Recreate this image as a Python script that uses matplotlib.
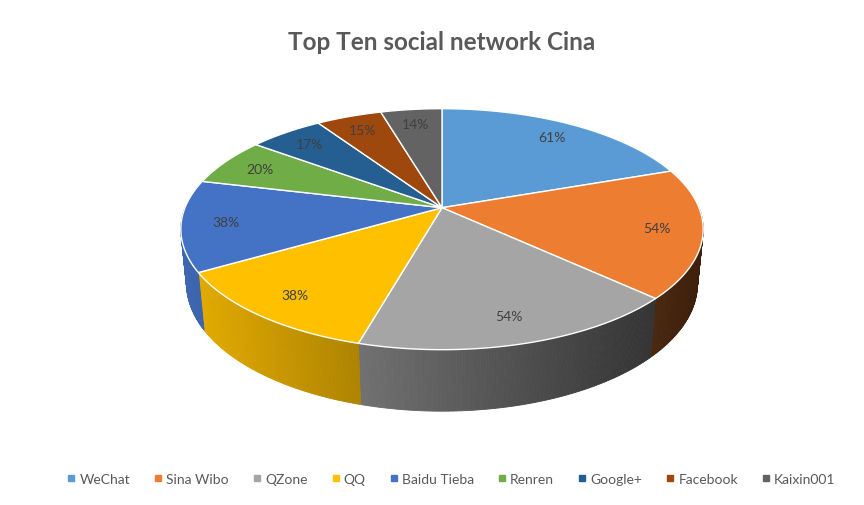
import numpy as np
import matplotlib.pyplot as plt
from matplotlib.patches import Polygon
from matplotlib.lines import Line2D

# data
names = ['WeChat', 'Sina Wibo', 'QZone', 'QQ', 'Baidu Tieba', 'Renren',
         'Google+', 'Facebook', 'Kaixin001']
values = [61, 54, 54, 38, 38, 20, 17, 15, 14]
colors = ['#5B9BD5', '#ED7D31', '#A5A5A5', '#FFC000', '#4472C4', '#70AD47',
          '#255E91', '#9E480E', '#636363']
title = 'Top Ten social network Cina'

plt.rcParams['font.family'] = ['Lato', 'DejaVu Sans']

# simple perspective projection of a tilted disk
cx, cy, k = 442.0, 208.7, 257.0
elev = np.radians(27)
dist = 5.0
depth = 0.24


def project(x, y, z):
    v = y * np.sin(elev) + z * np.cos(elev)
    w = y * np.cos(elev) - z * np.sin(elev)
    s = dist / (dist + w)
    return cx + k * x * s, cy - k * v * s


def shade(color, f):
    c = np.array(plt.matplotlib.colors.to_rgb(color))
    return tuple(np.clip(c * f, 0, 1))


fig = plt.figure(figsize=(8.64, 5.06), dpi=100)
ax = fig.add_axes([0, 0, 1, 1])
ax.set_xlim(0, 864)
ax.set_ylim(506, 0)
ax.axis('off')

total = float(sum(values))
cum = np.concatenate([[0], np.cumsum(values)]) / total * 360.0
starts = 90 - cum[:-1]
ends = 90 - cum[1:]

# front walls
for a0, a1, col in zip(starts, ends, colors):
    lo, hi = max(a1, -180), min(a0, 0)
    if hi <= lo:
        continue
    t = np.radians(np.linspace(hi, lo, int((hi - lo) * 2) + 2))
    for j in range(len(t) - 1):
        ta, tb = t[j], t[j + 1]
        xa, ya = project(np.cos(ta), np.sin(ta), 0)
        xb, yb = project(np.cos(tb), np.sin(tb), 0)
        xc, yc = project(np.cos(tb), np.sin(tb), -depth)
        xd, yd = project(np.cos(ta), np.sin(ta), -depth)
        pos = (xa - (cx - k)) / (2 * k)
        f = 0.9 - 0.64 * pos
        fc = shade(col, f)
        ax.add_patch(Polygon([(xa, ya), (xb, yb), (xc, yc), (xd, yd)],
                             closed=True, facecolor=fc, edgecolor=fc, lw=0.6))

# top faces
for a0, a1, col in zip(starts, ends, colors):
    t = np.radians(np.linspace(a0, a1, int(abs(a0 - a1) * 2) + 2))
    pts = [project(0, 0, 0)] + [project(np.cos(a), np.sin(a), 0) for a in t]
    ax.add_patch(Polygon(pts, closed=True, facecolor=col, edgecolor='white', lw=1.0))

# data labels
for a0, a1, val in zip(starts, ends, values):
    m = np.radians((a0 + a1) / 2)
    lx, ly = project(0.83 * np.cos(m), 0.83 * np.sin(m), 0)
    ax.text(lx, ly, '%d%%' % val, ha='center', va='center', fontsize=10, color='#404040')

ax.text(442, 42, title, ha='center', va='center', fontsize=17.5, fontweight='bold', color='#595959')

handles = [Line2D([], [], marker='s', color=c, linestyle='none', markersize=4) for c in colors]
fig.legend(handles, names, loc='center', bbox_to_anchor=(450 / 864, 1 - 480 / 506), ncol=9,
           frameon=False, fontsize=10, handletextpad=0.1, columnspacing=1.5,
           labelcolor='#595959', handlelength=1.0)

fig.savefig('out.png', dpi=100)
